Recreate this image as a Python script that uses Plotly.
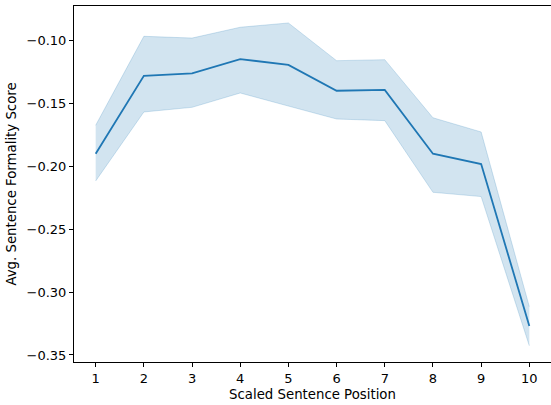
import plotly.graph_objects as go

positions = [1, 2, 3, 4, 5, 6, 7, 8, 9, 10]
mean_score = [-0.190, -0.128, -0.126, -0.1146, -0.1193, -0.1398, -0.1392, -0.1899, -0.1981, -0.327]
upper_ci = [-0.1673, -0.0965, -0.0979, -0.0893, -0.0859, -0.1159, -0.1151, -0.1613, -0.1726, -0.3116]
lower_ci = [-0.2116, -0.1567, -0.153, -0.1416, -0.152, -0.1623, -0.1636, -0.2206, -0.224, -0.3427]

y_ticks = [-0.35, -0.30, -0.25, -0.20, -0.15, -0.10]
y_ticktext = ["\u22120.35", "\u22120.30", "\u22120.25", "\u22120.20", "\u22120.15", "\u22120.10"]

blue = "#1f77b4"
band = "rgba(31,119,180,0.2)"

fig = go.Figure()
fig.add_trace(go.Scatter(x=positions, y=upper_ci, mode="lines",
                         line=dict(color=band, width=1), showlegend=False, hoverinfo="skip"))
fig.add_trace(go.Scatter(x=positions, y=lower_ci, mode="lines", fill="tonexty",
                         fillcolor=band, line=dict(color=band, width=1),
                         showlegend=False, hoverinfo="skip"))
fig.add_trace(go.Scatter(x=positions, y=mean_score, mode="lines",
                         line=dict(color=blue, width=1.8), showlegend=False))

font = dict(family="DejaVu Sans", size=13, color="black")
title_font = dict(family="DejaVu Sans", size=13.3, color="black")
fig.update_layout(
    width=551, height=405,
    margin=dict(l=74, r=0, t=6, b=43),
    paper_bgcolor="white", plot_bgcolor="white",
    font=font,
    xaxis=dict(range=[0.55, 10.45], tickvals=positions, showgrid=False, zeroline=False,
               showline=True, linecolor="black", linewidth=1, mirror=True,
               ticks="outside", ticklen=4, tickwidth=1, tickcolor="black",
               title=dict(text="Scaled Sentence Position", font=title_font, standoff=5)),
    yaxis=dict(range=[-0.3556, -0.0724], tickvals=y_ticks, ticktext=y_ticktext,
               showgrid=False, zeroline=False,
               showline=True, linecolor="black", linewidth=1, mirror=True,
               ticks="outside", ticklen=4, tickwidth=1, tickcolor="black",
               title=dict(text="Avg. Sentence Formality Score", font=title_font, standoff=6)),
)
fig.write_html("out.html")
